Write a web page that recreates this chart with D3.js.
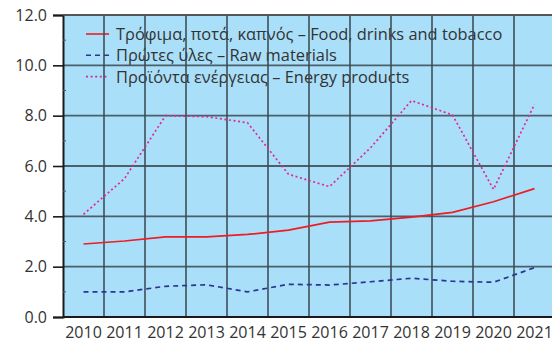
<!DOCTYPE html>
<html>
<head>
<meta charset="utf-8">
<script src="https://cdn.jsdelivr.net/npm/d3@7"></script>
<style>
  html, body { margin: 0; padding: 0; background: #fff; }
  svg { display: block; }
  text { font-family: "Open Sans", "Noto Sans", sans-serif; fill: #333; }
</style>
</head>
<body>
<svg id="chart" width="552" height="343"></svg>
<script>
// Annual values, 2010–2021
const years = ["2010","2011","2012","2013","2014","2015","2016","2017","2018","2019","2020","2021"];
const food = [2.9, 3.02, 3.18, 3.18, 3.28, 3.45, 3.77, 3.82, 3.97, 4.16, 4.58, 5.1];
const rawMaterials = [1.0, 1.0, 1.22, 1.28, 1.0, 1.3, 1.27, 1.4, 1.54, 1.42, 1.38, 1.96];
const energy = [4.08, 5.5, 8.0, 7.96, 7.72, 5.67, 5.18, 6.72, 8.6, 8.03, 5.07, 8.45];
const yTicks = [0, 2, 4, 6, 8, 10, 12];

const series = [
  { name: "Τρόφιμα, ποτά, καπνός – Food, drinks and tobacco", values: food, color: "#ee1c25", dash: null },
  { name: "Πρώτες ύλες – Raw materials", values: rawMaterials, color: "#2a3596", dash: "5,4" },
  { name: "Προϊόντα ενέργειας – Energy products", values: energy, color: "#e2269a", dash: "2,2.6" }
];

const svg = d3.select("#chart");
const plotLeft = 63, plotTop = 15, plotBottom = 317, bandW = 41;
const plotRight = plotLeft + bandW * years.length;

const x = d3.scaleBand().domain(years).range([plotLeft, plotRight]).padding(0);
const y = d3.scaleLinear().domain([0, 12]).range([plotBottom, plotTop]);

// plot background
svg.append("rect")
  .attr("x", plotLeft).attr("y", plotTop)
  .attr("width", plotRight - plotLeft).attr("height", plotBottom - plotTop)
  .attr("fill", "#aadff9");

// legend
const legend = svg.append("g");
series.forEach((s, i) => {
  const ly = 34 + i * 21.3;
  legend.append("line")
    .attr("x1", 86).attr("x2", 109).attr("y1", ly).attr("y2", ly)
    .attr("stroke", s.color).attr("stroke-width", 1.6)
    .attr("stroke-dasharray", s.dash);
  legend.append("text")
    .attr("x", 116).attr("y", ly + 6)
    .attr("font-size", 16.4)
    .text(s.name);
});

// grid
const grid = svg.append("g").attr("stroke", "#3a4951").attr("stroke-opacity", 0.85).attr("stroke-width", 1.8);
yTicks.forEach(v => {
  grid.append("line").attr("x1", plotLeft).attr("x2", plotRight).attr("y1", y(v)).attr("y2", y(v));
});
years.forEach(yr => {
  const gx = x(yr) + bandW;
  grid.append("line").attr("x1", gx).attr("x2", gx).attr("y1", plotTop).attr("y2", plotBottom);
});

// series lines
const line = d3.line()
  .x((d, i) => x(years[i]) + bandW / 2)
  .y(d => y(d));

series.forEach(s => {
  svg.append("path")
    .datum(s.values)
    .attr("d", line)
    .attr("fill", "none")
    .attr("stroke", s.color)
    .attr("stroke-width", 1.7)
    .attr("stroke-linejoin", "round")
    .attr("stroke-dasharray", s.dash);
});

// y axis
const yAxis = d3.axisLeft(y).tickValues(yTicks).tickFormat(d3.format(".1f")).tickSize(10).tickPadding(6);
const gy = svg.append("g").attr("transform", `translate(${plotLeft},0)`).call(yAxis);
gy.select(".domain").attr("stroke", "#1a1a1a").attr("stroke-width", 2);
gy.selectAll(".tick line").attr("stroke", "#1a1a1a").attr("stroke-width", 1.6);
gy.selectAll(".tick text").attr("font-size", 16).attr("fill", "#333")
  .style("font-family", "'Open Sans', sans-serif");

// minor ticks on the y axis
svg.append("g").selectAll("line")
  .data([1, 3, 5, 7, 9, 11])
  .join("line")
  .attr("x1", plotLeft).attr("x2", plotLeft + 3)
  .attr("y1", d => y(d)).attr("y2", d => y(d))
  .attr("stroke", "#555").attr("stroke-width", 1);

// x axis
const xAxis = d3.axisBottom(x).tickSize(0).tickPadding(10);
const gxAxis = svg.append("g").attr("transform", `translate(0,${plotBottom})`).call(xAxis);
gxAxis.select(".domain").remove();
svg.append("line").attr("x1", plotLeft).attr("x2", plotRight).attr("y1", plotBottom).attr("y2", plotBottom)
  .attr("stroke", "#1a1a1a").attr("stroke-width", 2);
gxAxis.selectAll(".tick text").attr("font-size", 16).attr("fill", "#333")
  .style("font-family", "'Open Sans', sans-serif");

// top border
svg.append("line").attr("x1", plotLeft).attr("x2", plotRight).attr("y1", plotTop).attr("y2", plotTop)
  .attr("stroke", "#555").attr("stroke-width", 1.5);
</script>
</body>
</html>
